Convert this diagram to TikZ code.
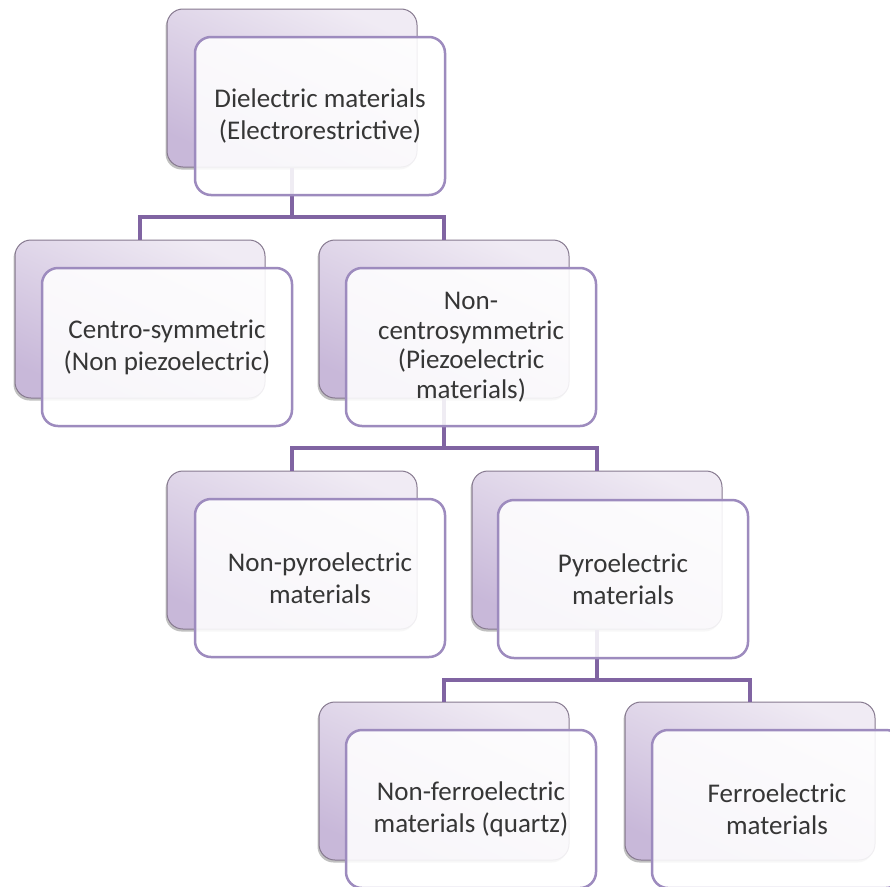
\documentclass[tikz,border=0pt]{standalone}
\usepackage{fontspec}
\setmainfont{Carlito}
\usetikzlibrary{shadows}
\definecolor{connc}{HTML}{8064A2}
\definecolor{frontline}{HTML}{9D8BBE}
\definecolor{backtop}{HTML}{F0EBF4}
\definecolor{backbot}{HTML}{C8B8D9}
\definecolor{backline}{HTML}{86798F}
\definecolor{txt}{HTML}{363636}
\tikzset{
  backbox/.style={draw=backline, line width=1pt, rounded corners=16pt,
    minimum width=250pt, minimum height=158pt, inner sep=0pt,
    top color=backtop, bottom color=backbot, shading angle=-25,
    drop shadow={shadow xshift=-1.5pt, shadow yshift=-2.5pt, opacity=0.35, fill=black!70}},
  frontbox/.style={draw=frontline, line width=2.5pt, rounded corners=16pt,
    fill=white, fill opacity=0.88, text opacity=1,
    minimum width=250pt, minimum height=158pt, inner sep=0pt,
    align=center, text=txt, font=\fontsize{27}{32}\selectfont},
  connector/.style={draw=connc, line width=4pt}
}
\begin{document}
\begin{tikzpicture}[x=1pt,y=-1pt]
\useasboundingbox (0,0) rectangle (890,886);
\fill[white] (0,0) rectangle (890,886);
% back boxes
\node[backbox] (b1) at (292,88) {};
\node[backbox] (b2) at (140,319) {};
\node[backbox] (b3) at (444,319) {};
\node[backbox] (b4) at (292,550) {};
\node[backbox] (b5) at (597,550) {};
\node[backbox] (b6) at (444,781) {};
\node[backbox] (b7) at (750,781) {};
% connectors
\coordinate (j1) at (292,217);
\coordinate (j2) at (444,448);
\coordinate (j3) at (597,680);
\draw[connector] (b1.south) -- (j1);
\draw[connector] (j1) -| (b2.north);
\draw[connector] (j1) -| (b3.north);
\draw[connector] (b3.south) -- (j2);
\draw[connector] (j2) -| (b4.north);
\draw[connector] (j2) -| (b5.north);
\draw[connector] (b5.south) -- (j3);
\draw[connector] (j3) -| (b6.north);
\draw[connector] (j3) -| (b7.north);
% front boxes
\node[frontbox] (f1) at (320,116) {Dielectric materials\\(Electrorestrictive)};
\node[frontbox] (f2) at (167,347) {Centro-symmetric\\(Non piezoelectric)};
\node[frontbox, font=\fontsize{27}{29.5}\selectfont] (f3) at (471,347) {Non-\\centrosymmetric\\(Piezoelectric\\materials)};
\node[frontbox] (f4) at (320,578) {Non-pyroelectric\\materials};
\node[frontbox] (f5) at (623,579) {Pyroelectric\\materials};
\node[frontbox] (f6) at (471,809) {Non-ferroelectric\\materials (quartz)};
\node[frontbox] (f7) at (777,809) {Ferroelectric\\materials};
\end{tikzpicture}
\end{document}
